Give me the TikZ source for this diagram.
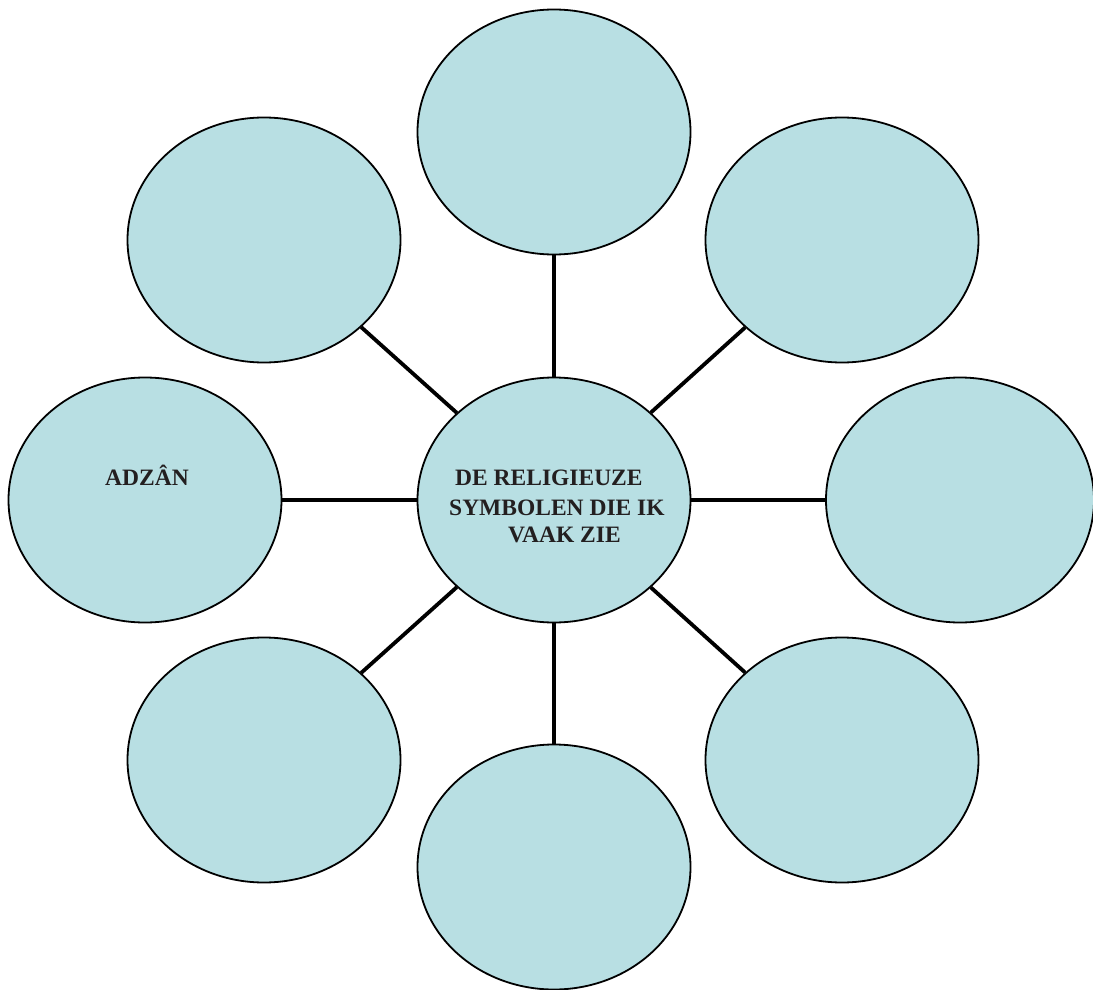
\documentclass[tikz,border=0pt]{standalone}
\usepackage{fontspec}
\setmainfont{Liberation Serif}
\usetikzlibrary{shapes.geometric}
\definecolor{bubble}{HTML}{B8DFE3}
\definecolor{ink}{HTML}{231F20}
\tikzset{
  bub/.style={ellipse, draw=black, line width=1.8pt, fill=bubble, inner sep=0pt,
              minimum width=273pt, minimum height=245pt},
  link/.style={line width=3.8pt, draw=black},
  lbl/.style={font=\bfseries\fontsize{23.5}{28}\selectfont, text=ink, inner sep=0pt, anchor=base west}
}
\begin{document}
\begin{tikzpicture}[x=1pt,y=-1pt]
\useasboundingbox (0,0) rectangle (1093,990);
\clip (0,0) rectangle (1093,990);
% nodes
\node[bub] (c)  at (554,500) {};
\node[bub] (n)  at (554,132) {};
\node[bub] (nw) at (264,240) {};
\node[bub] (ne) at (842,240) {};
\node[bub] (w)  at (145,500) {};
\node[bub, minimum width=268pt] (e)  at (960,500) {};
\node[bub] (sw) at (264,760) {};
\node[bub] (se) at (842,760) {};
\node[bub] (s)  at (554,867) {};
% connectors
\draw[link] (c) -- (n);
\draw[link] (c) -- (nw);
\draw[link] (c) -- (ne);
\draw[link] (c) -- (w);
\draw[link] (c) -- (e);
\draw[link] (c) -- (sw);
\draw[link] (c) -- (se);
\draw[link] (c) -- (s);
% texts
\node[lbl] (t1) at (455,485) {DE RELIGIEUZE};
\node[lbl] (t2) at (449,515) {SYMBOLEN DIE IK};
\node[lbl] (t3) at (508,542) {VAAK ZIE};
\node[lbl] (a)  at (105,485) {ADZÂN};
\end{tikzpicture}
\end{document}
